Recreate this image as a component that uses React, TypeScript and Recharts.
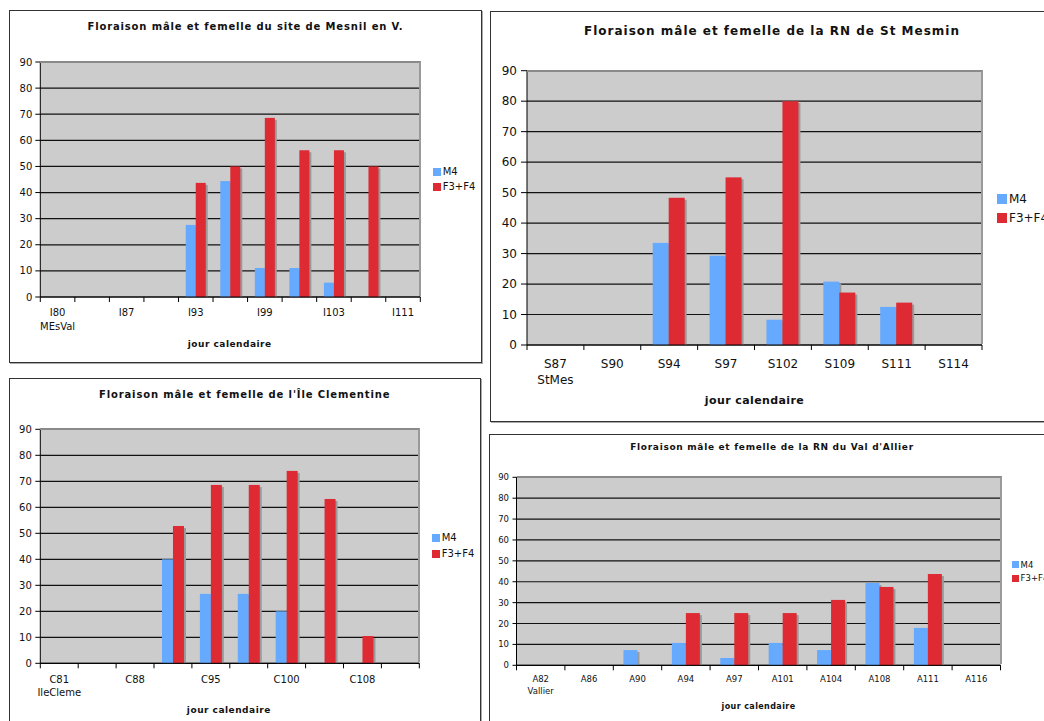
import React from 'react';
import { BarChart, Bar, XAxis, YAxis, CartesianGrid } from 'recharts';

// ---------- data ----------
const seriesNames = ['M4', 'F3+F4'];
const yTicks = [0, 10, 20, 30, 40, 50, 60, 70, 80, 90];

// Mesnil en V.
const mesnilDays = ['I80', 'I84', 'I87', 'I90', 'I93', 'I96', 'I99', 'I101', 'I103', 'I107', 'I111'];
const mesnilSite = 'MEsVal';
const mesnilM4 = [0, 0, 0, 0, 27.6, 44.4, 11.1, 11.1, 5.5, 0, 0];
const mesnilF = [0, 0, 0, 0, 43.7, 50, 68.6, 56.2, 56.2, 50, 0];

// RN de St Mesmin
const mesminDays = ['S87', 'S90', 'S94', 'S97', 'S102', 'S109', 'S111', 'S114'];
const mesminSite = 'StMes';
const mesminM4 = [0, 0, 33.5, 29.3, 8.3, 20.8, 12.5, 0];
const mesminF = [0, 0, 48.3, 55, 80, 17.2, 13.9, 0];

// Île Clementine
const clemDays = ['C81', 'C85', 'C88', 'C91', 'C95', 'C97', 'C100', 'C104', 'C108', 'C111'];
const clemSite = 'IleCleme';
const clemM4 = [0, 0, 0, 40, 26.7, 26.7, 20, 0, 0, 0];
const clemF = [0, 0, 0, 52.8, 68.6, 68.6, 74, 63.2, 10.5, 0];

// RN du Val d'Allier
const allierDays = ['A82', 'A86', 'A90', 'A94', 'A97', 'A101', 'A104', 'A108', 'A111', 'A116'];
const allierSite = 'Vallier';
const allierM4 = [0, 0, 7.3, 10.7, 3.5, 10.7, 7.3, 39.4, 17.9, 0];
const allierF = [0, 0, 0, 25, 25, 25, 31.3, 37.5, 43.7, 0];

const titles = [
  'Floraison mâle et femelle du site de Mesnil en V.',
  'Floraison mâle et femelle de la RN de St Mesmin',
  "Floraison mâle et femelle de l'Île Clementine",
  "Floraison mâle et femelle de la RN du Val d'Allier",
];
const xTitle = 'jour calendaire';

// ---------- styles ----------
const BLUE = '#66AAFF';
const RED = '#DD2A33';
const FONT = '"DejaVu Sans", Verdana, sans-serif';

type Cfg = {
  title: string;
  days: string[];
  site: string;
  m4: number[];
  f: number[];
  box: { x: number; y: number; w: number; h: number };
  plot: { l: number; t: number; r: number; b: number };
  tickFont: number;
  yTickSize: number;
  yTickMargin: number;
  xl1: number;
  xl2: number;
  labelEvery: number;
  titleS: { cx: number; cy: number; size: number; ls: number };
  xlab: { cx: number; cy: number; size: number; ls: number };
  legend: { x: number; tx: number; y1: number; y2: number; sq: number; size: number };
};

const configs: Cfg[] = [
  {
    title: titles[0], days: mesnilDays, site: mesnilSite, m4: mesnilM4, f: mesnilF,
    box: { x: 9, y: 10, w: 473, h: 353 },
    plot: { l: 40.3, t: 62, r: 420.3, b: 297 },
    tickFont: 10, yTickSize: 5, yTickMargin: 3, xl1: 15.3, xl2: 29.3, labelEvery: 2,
    titleS: { cx: 245.5, cy: 27, size: 10, ls: 0.85 },
    xlab: { cx: 229.7, cy: 344, size: 9, ls: 0.5 },
    legend: { x: 433, tx: 442.7, y1: 172, y2: 187, sq: 8, size: 10 },
  },
  {
    title: titles[1], days: mesminDays, site: mesminSite, m4: mesminM4, f: mesminF,
    box: { x: 490, y: 11, w: 600, h: 411 },
    plot: { l: 527, t: 70.7, r: 982, b: 345 },
    tickFont: 12, yTickSize: 6, yTickMargin: 4, xl1: 18.3, xl2: 34.3, labelEvery: 1,
    titleS: { cx: 772, cy: 31, size: 12, ls: 1.0 },
    xlab: { cx: 754.5, cy: 401, size: 11, ls: 0.4 },
    legend: { x: 997, tx: 1009, y1: 199, y2: 218, sq: 10, size: 12 },
  },
  {
    title: titles[2], days: clemDays, site: clemSite, m4: clemM4, f: clemF,
    box: { x: 9, y: 378, w: 472, h: 360 },
    plot: { l: 40.3, t: 429.3, r: 419.3, b: 663.3 },
    tickFont: 10, yTickSize: 5, yTickMargin: 3.5, xl1: 16, xl2: 28.7, labelEvery: 2,
    titleS: { cx: 244.7, cy: 395, size: 10, ls: 0.87 },
    xlab: { cx: 228.8, cy: 710, size: 9, ls: 0.5 },
    legend: { x: 432, tx: 441.7, y1: 538, y2: 554, sq: 8, size: 10 },
  },
  {
    title: titles[3], days: allierDays, site: allierSite, m4: allierM4, f: allierF,
    box: { x: 489, y: 434, w: 600, h: 300 },
    plot: { l: 516.5, t: 477.3, r: 1000.5, b: 665.3 },
    tickFont: 8.5, yTickSize: 4, yTickMargin: 3.5, xl1: 13.4, xl2: 25.4, labelEvery: 1,
    titleS: { cx: 772, cy: 447, size: 9, ls: 0.7 },
    xlab: { cx: 758.5, cy: 707, size: 8, ls: 0.4 },
    legend: { x: 1012, tx: 1020.6, y1: 564.7, y2: 578.3, sq: 7, size: 8.5 },
  },
];

function ShadowBar(props: any) {
  const { x, y, width, height, fill } = props;
  if (!height || height <= 0 || !width) return <g />;
  const d = 2;
  return (
    <g>
      <rect x={x + d} y={y + d} width={width} height={Math.max(0, height - d)} fill="#9A9A9A" />
      <rect x={x} y={y} width={width} height={height} fill={fill} />
    </g>
  );
}

function makeTick(cfg: Cfg, band: number) {
  const n = cfg.days.length;
  return (props: any) => {
    const { x, y, index, payload } = props;
    const show = index % cfg.labelEvery === 0;
    return (
      <g>
        <line x1={x - band / 2} y1={y} x2={x - band / 2} y2={y + 5} stroke="#000" strokeWidth={1} />
        {index === n - 1 && (
          <line x1={x + band / 2} y1={y} x2={x + band / 2} y2={y + 5} stroke="#000" strokeWidth={1} />
        )}
        {show && (
          <text x={x} y={y + cfg.xl1} dy="0.35em" textAnchor="middle" fontSize={cfg.tickFont} fill="#111" fontFamily={FONT}>
            {payload.value}
          </text>
        )}
        {index === 0 && (
          <text x={x} y={y + cfg.xl2} dy="0.35em" textAnchor="middle" fontSize={cfg.tickFont} fill="#111" fontFamily={FONT}>
            {cfg.site}
          </text>
        )}
      </g>
    );
  };
}

function CenterText({ cx, cy, size, ls, bold, children }: any) {
  return (
    <div
      style={{
        position: 'absolute', left: cx - 300, top: cy - size * 0.6, width: 600, height: size * 1.2,
        lineHeight: `${size * 1.2}px`, fontSize: size, letterSpacing: ls, fontWeight: bold ? 'bold' : 'normal',
        textAlign: 'center', whiteSpace: 'nowrap', color: '#111', fontFamily: FONT,
      }}
    >
      {children}
    </div>
  );
}

function Panel({ cfg }: { cfg: Cfg }) {
  const data = cfg.days.map((d, i) => ({ day: d, m4: cfg.m4[i], f: cfg.f[i] }));
  const plotW = cfg.plot.r - cfg.plot.l;
  const plotH = cfg.plot.b - cfg.plot.t;
  const band = plotW / cfg.days.length;
  const { box, plot, legend } = cfg;
  return (
    <>
      <div
        style={{
          position: 'absolute', left: box.x, top: box.y, width: box.w, height: box.h,
          border: '1px solid #333', boxSizing: 'border-box', boxShadow: '1px 1px 0 #aaa', background: '#fff',
        }}
      />
      <div style={{ position: 'absolute', left: box.x, top: box.y }}>
        <BarChart
          width={box.w}
          height={box.h}
          data={data}
          margin={{ top: plot.t - box.y, right: box.x + box.w - plot.r, bottom: 0, left: 0 }}
          barCategoryGap="21%"
          barGap={0}
        >
          <CartesianGrid vertical={false} stroke="#111" strokeWidth={1.2} fill="#CCCCCC" fillOpacity={1} />
          <XAxis
            dataKey="day"
            interval={0}
            tickSize={0}
            tickMargin={0}
            height={box.y + box.h - plot.b}
            axisLine={{ stroke: '#000' }}
            tickLine={false}
            tick={makeTick(cfg, band)}
          />
          <YAxis
            domain={[0, 90]}
            ticks={yTicks}
            interval={0}
            width={plot.l - box.x}
            tickSize={cfg.yTickSize}
            tickMargin={cfg.yTickMargin}
            axisLine={{ stroke: '#000' }}
            tickLine={{ stroke: '#000' }}
            tick={{ fontSize: cfg.tickFont, fill: '#111', fontFamily: FONT }}
          />
          <Bar dataKey="m4" name={seriesNames[0]} fill={BLUE} shape={ShadowBar} isAnimationActive={false} />
          <Bar dataKey="f" name={seriesNames[1]} fill={RED} shape={ShadowBar} isAnimationActive={false} />
        </BarChart>
      </div>
      <div
        style={{
          position: 'absolute', left: plot.l, top: plot.t - 1, width: plotW + 1, height: plotH,
          borderTop: '2px solid #8a8a8a', borderRight: '2px solid #9a9a9a', boxSizing: 'border-box', pointerEvents: 'none',
        }}
      />
      <CenterText cx={cfg.titleS.cx} cy={cfg.titleS.cy} size={cfg.titleS.size} ls={cfg.titleS.ls} bold>
        {cfg.title}
      </CenterText>
      <CenterText cx={cfg.xlab.cx} cy={cfg.xlab.cy} size={cfg.xlab.size} ls={cfg.xlab.ls} bold>
        {xTitle}
      </CenterText>
      {[legend.y1, legend.y2].map((ly, i) => (
        <React.Fragment key={i}>
          <div
            style={{
              position: 'absolute', left: legend.x, top: ly - legend.sq / 2, width: legend.sq, height: legend.sq,
              background: i === 0 ? BLUE : RED,
            }}
          />
          <div
            style={{
              position: 'absolute', left: legend.tx, top: ly - legend.size * 0.6, height: legend.size * 1.2,
              lineHeight: `${legend.size * 1.2}px`, fontSize: legend.size, whiteSpace: 'nowrap', color: '#111', fontFamily: FONT,
            }}
          >
            {seriesNames[i]}
          </div>
        </React.Fragment>
      ))}
    </>
  );
}

export default function App() {
  return (
    <div
      style={{
        position: 'absolute', left: 0, top: 0, width: 1044, height: 721, overflow: 'hidden',
        background: '#fff', fontFamily: FONT,
      }}
    >
      {configs.map((c, i) => (
        <Panel key={i} cfg={c} />
      ))}
    </div>
  );
}
